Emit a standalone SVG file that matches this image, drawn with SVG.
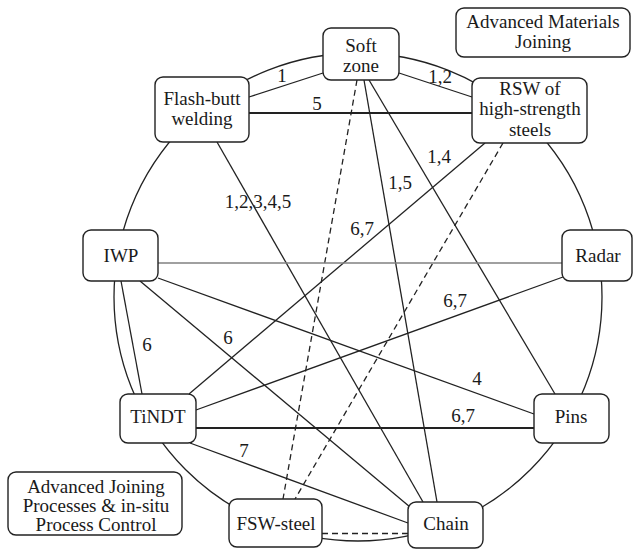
<svg xmlns="http://www.w3.org/2000/svg" width="633" height="549" viewBox="0 0 633 549">
<style>
.e{fill:none;stroke:#222;stroke-width:1.3}
.d{stroke-dasharray:6 4}
.n rect{fill:#fff;stroke:#222;stroke-width:1.4}
text{font-family:"Liberation Serif","DejaVu Serif","Times New Roman",serif;font-size:19px;fill:#1a1a1a;text-anchor:middle}
</style>
<rect width="633" height="549" fill="#fff"/>
<g id="connectors">
<circle class="e" cx="358" cy="297" r="244"/>
<line class="e" x1="323" y1="73" x2="249" y2="97"/>
<line class="e" x1="399" y1="73" x2="472" y2="97"/>
<line class="e" x1="249" y1="113" x2="472" y2="113" style="stroke-width:1.8"/>
<line class="e" x1="217" y1="142" x2="423" y2="502"/>
<line class="e" x1="364" y1="80" x2="437" y2="502"/>
<line class="e" x1="369" y1="80" x2="555" y2="394"/>
<line class="e d" x1="357" y1="80" x2="283" y2="499"/>
<line class="e d" x1="503" y1="143" x2="295" y2="499"/>
<line class="e" x1="485" y1="143" x2="189" y2="394"/>
<line class="e" x1="158" y1="263" x2="562" y2="263" style="stroke:#808080;stroke-width:1.4"/>
<line class="e" x1="158" y1="278" x2="534" y2="414"/>
<line class="e" x1="140" y1="281" x2="410" y2="507"/>
<line class="e" x1="121" y1="281" x2="142" y2="394"/>
<line class="e" x1="196" y1="410" x2="563" y2="277"/>
<line class="e" x1="196" y1="428" x2="534" y2="428" style="stroke-width:2"/>
<line class="e" x1="190" y1="443" x2="408" y2="523"/>
<line class="e d" x1="322" y1="533.5" x2="408" y2="533.5"/>
<text x="282" y="82">1</text>
<text x="440" y="83">1,2</text>
<text x="317" y="110">5</text>
<text x="258" y="208">1,2,3,4,5</text>
<text x="439" y="163">1,4</text>
<text x="400" y="189">1,5</text>
<text x="362" y="235">6,7</text>
<text x="455" y="307">6,7</text>
<text x="477" y="385">4</text>
<text x="463" y="422">6,7</text>
<text x="228" y="344">6</text>
<text x="147" y="351">6</text>
<text x="244" y="457">7</text>
</g>
<g id="soft-zone" class="n"><rect x="323" y="28" width="76" height="52" rx="8"/><text x="361" y="52">Soft</text><text x="361" y="72">zone</text></g>
<g id="flash-butt" class="n"><rect x="155" y="77" width="94" height="65" rx="8"/><text x="202" y="105">Flash-butt</text><text x="202" y="125">welding</text></g>
<g id="rsw" class="n"><rect x="472" y="78" width="115" height="65" rx="8"/><text x="530" y="95">RSW of</text><text x="530" y="115">high-strength</text><text x="530" y="136">steels</text></g>
<g id="iwp" class="n"><rect x="83" y="230" width="75" height="51" rx="8"/><text x="121" y="262">IWP</text></g>
<g id="radar" class="n"><rect x="562" y="230" width="70" height="51" rx="8"/><text x="598" y="262">Radar</text></g>
<g id="tindt" class="n"><rect x="120" y="394" width="76" height="49" rx="8"/><text x="158" y="423">TiNDT</text></g>
<g id="pins" class="n"><rect x="534" y="394" width="75" height="49" rx="8"/><text x="571" y="423">Pins</text></g>
<g id="fsw-steel" class="n"><rect x="229" y="499" width="93" height="48" rx="8"/><text x="276" y="530">FSW-steel</text></g>
<g id="chain" class="n"><rect x="408" y="502" width="75" height="46" rx="8"/><text x="446" y="530">Chain</text></g>
<g id="legend-materials" class="n"><rect x="456" y="8" width="174" height="49" rx="8"/><text x="543" y="28">Advanced Materials</text><text x="543" y="48">Joining</text></g>
<g id="legend-processes" class="n"><rect x="8" y="472" width="174" height="63" rx="8"/><text x="96" y="493">Advanced Joining</text><text x="96" y="512">Processes &amp; in-situ</text><text x="96" y="531">Process Control</text></g>
</svg>
